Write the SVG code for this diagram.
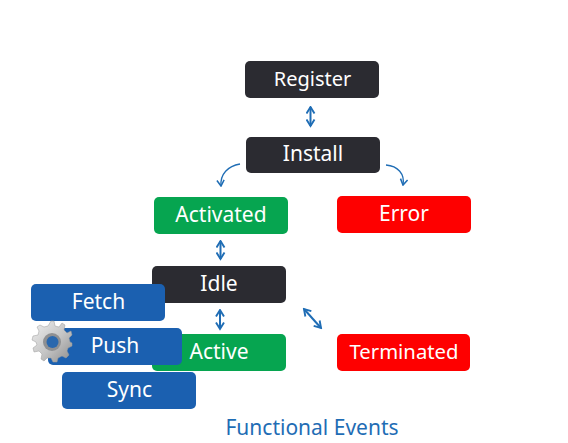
<svg xmlns="http://www.w3.org/2000/svg" width="568" height="443" viewBox="0 0 568 443">
<defs>
<marker id="ah" viewBox="0 0 10 10" refX="8.500" refY="5" markerWidth="10" markerHeight="10" orient="auto-start-reverse" markerUnits="userSpaceOnUse"><path d="M2 1L8.500 5L2 9" fill="none" stroke="#1f6db5" stroke-width="1.900"/></marker>
<marker id="as" viewBox="0 0 10 10" refX="8.500" refY="5" markerWidth="9" markerHeight="9" orient="auto" markerUnits="userSpaceOnUse"><path d="M2 1L8.500 5L2 9" fill="none" stroke="#1f6db5" stroke-width="1.700"/></marker>
<linearGradient id="gear" x1="0" y1="0" x2="1" y2="1"><stop offset="0" stop-color="#f0f0f0"/><stop offset="0.55" stop-color="#c4c4c4"/><stop offset="1" stop-color="#8c8c8c"/></linearGradient>
</defs>
<style>
.k{fill:#2b2b31}.g{fill:#06a550}.r{fill:#fe0000}.b{fill:#1b60b0}
text{font-family:"Noto Sans","Open Sans",sans-serif;font-size:21px;fill:#fff;text-anchor:middle}
.c path{fill:none;stroke:#1f6db5;stroke-width:2;marker-start:url(#ah);marker-end:url(#ah)}
.c path.o{stroke-width:1.300;marker-start:none;marker-end:url(#as)}
</style>
<rect width="568" height="443" fill="#fff"/>
<g class="c" id="connectors">
<path d="M310.500 107V126"/>
<path class="o" d="M240 164C228 166 220 174 221 186"/>
<path class="o" d="M386 165C398 166 405 174 403 185"/>
<path d="M220.500 241V259"/>
<path d="M220 310V329"/>
<path d="M304 309L321 328"/>
</g>
<g id="register"><rect class="k" x="245" y="61" width="134" height="37" rx="5"/><text x="312.500" y="86" style="font-size:20px">Register</text></g>
<g id="install"><rect class="k" x="246" y="137" width="134" height="36" rx="5"/><text x="313" y="161">Install</text></g>
<g id="activated"><rect class="g" x="154" y="197" width="134" height="37" rx="5"/><text x="221" y="222">Activated</text></g>
<g id="error"><rect class="r" x="337" y="196" width="134" height="37" rx="5"/><text x="404" y="221">Error</text></g>
<g id="idle"><rect class="k" x="152" y="266" width="134" height="37" rx="5"/><text x="219" y="291">Idle</text></g>
<g id="active"><rect class="g" x="152" y="334" width="134" height="37" rx="5"/><text x="219" y="359">Active</text></g>
<g id="terminated"><rect class="r" x="337" y="334" width="133" height="37" rx="5"/><text x="404" y="359" style="font-size:20.300px">Terminated</text></g>
<g id="fetch"><rect class="b" x="31" y="284" width="134" height="37" rx="5"/><text x="98.500" y="309">Fetch</text></g>
<g id="push"><rect class="b" x="48" y="328" width="134" height="37" rx="5"/><text x="115" y="353">Push</text></g>
<g id="sync"><rect class="b" x="62" y="372" width="134" height="37" rx="5"/><text x="129.500" y="397">Sync</text></g>
<g id="gear-icon">
<path fill="url(#gear)" stroke="#9a9a9a" stroke-width="0.500" d="M51 321L54 321L55 326L59 327L62 323L65 325L64 330L67 333L71 331L72 335L69 338L70 342L72 343L72 346L68 348L67 351L69 355L66 358L62 356L58 358L57 362L53 362L51 358L47 358L44 361L41 359L42 354L39 351L34 352L33 348L37 345L36 342L32 340L33 336L38 335L39 331L37 327L40 325L44 327L48 326Z"/>
<circle cx="52" cy="342" r="9" fill="#8f9092"/>
<circle cx="52.500" cy="342" r="6" fill="#2a68ae"/>
</g>
<text x="312" y="435" style="fill:#1f6db5">Functional Events</text>
</svg>
